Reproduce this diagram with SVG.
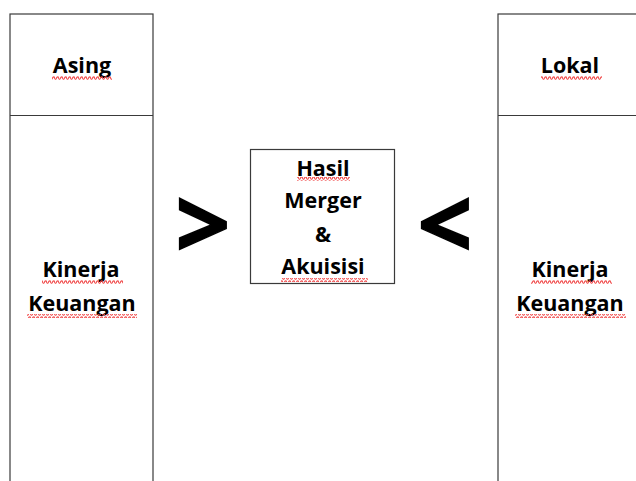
<svg xmlns="http://www.w3.org/2000/svg" width="636" height="481" viewBox="0 0 636 481">
  <defs>
    <!-- spell-check squiggle -->
    <pattern id="wave" x="0" y="0" width="4" height="4" patternUnits="userSpaceOnUse">
      <path d="M0 3.2 Q1 0.4 2 0.8 Q3 3.6 4 3.2" fill="none" stroke="#f04848" stroke-width="1.1"/>
    </pattern>
    <style>
      .box { fill: #ffffff; stroke: #3a3a3a; stroke-width: 1.2; }
      .line { stroke: #3a3a3a; stroke-width: 1.2; }
      .t { font-family: "Open Sans", "Liberation Sans", sans-serif; font-weight: bold; font-size: 21.5px; fill: #000; text-anchor: middle; }
      .op { font-family: "Open Sans", "Liberation Sans", sans-serif; font-weight: bold; font-size: 96px; fill: #000; text-anchor: middle; }
      .sq { fill: url(#wave); }
    </style>
  </defs>
  <rect width="636" height="481" fill="#ffffff"/>

  <!-- left column: Asing -->
  <g id="asing">
    <rect class="box" x="10" y="14" width="143" height="480"/>
    <line class="line" x1="10" y1="115.5" x2="153" y2="115.5"/>
    <text class="t" x="82" y="73">Asing</text>
    <rect class="sq" x="52" y="76" width="60" height="4"/>
    <text class="t" x="81" y="277">Kinerja</text>
    <rect class="sq" x="42" y="280" width="81" height="4"/>
    <text class="t" x="82" y="311">Keuangan</text>
    <rect class="sq" x="27" y="314" width="110" height="4"/>
  </g>

  <!-- right column: Lokal -->
  <g id="lokal">
    <rect class="box" x="498" y="14" width="160" height="480"/>
    <line class="line" x1="498" y1="115.5" x2="636" y2="115.5"/>
    <text class="t" x="570" y="73">Lokal</text>
    <rect class="sq" x="541" y="76" width="61" height="4"/>
    <text class="t" x="570" y="277">Kinerja</text>
    <rect class="sq" x="531" y="280" width="81" height="4"/>
    <text class="t" x="570" y="311">Keuangan</text>
    <rect class="sq" x="515" y="314" width="111" height="4"/>
  </g>

  <!-- centre: Hasil Merger & Akuisisi -->
  <g id="hasil">
    <rect class="box" x="250.5" y="149.5" width="144" height="134"/>
    <text class="t" x="323" y="176">Hasil</text>
    <rect class="sq" x="297" y="177" width="53" height="4"/>
    <text class="t" x="323" y="208">Merger</text>
    <text class="t" x="323" y="242">&amp;</text>
    <text class="t" x="323" y="274">Akuisisi</text>
    <rect class="sq" x="281" y="278" width="87" height="4"/>
  </g>

  <!-- comparison signs -->
  <g id="connectors">
    <text class="op" x="203" y="259" stroke="#000" stroke-width="1.5">&gt;</text>
    <text class="op" x="445" y="259" stroke="#000" stroke-width="1.5">&lt;</text>
  </g>
</svg>
